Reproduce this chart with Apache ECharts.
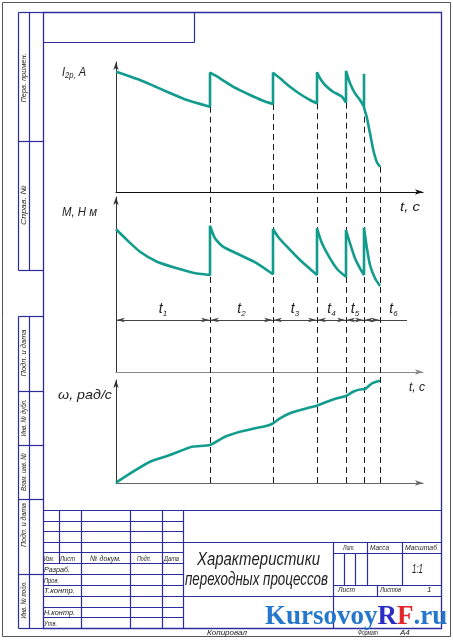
<!DOCTYPE html>
<html><head><meta charset="utf-8">
<script src="https://cdn.jsdelivr.net/npm/echarts@6/dist/echarts.min.js"></script>
<style>html,body{margin:0;padding:0;background:#fff}#c{width:453px;height:640px}</style>
</head><body><div id="c"></div>
<script>
// ---- data ----
const tBounds = [9.4, 15.7, 20.1, 23.0, 24.8, 26.4];
const currentI = [
  [0,120.3],[1.2,116.3],[2.4,112],[3.8,106],[5.1,100.3],[7.1,92],[9.4,85.3],
  [9.4,119.3],[10.4,113.7],[11.7,105.3],[13.4,97],[14.7,91.3],[15.7,88],
  [15.7,119.3],[16.4,113.7],[17.4,105.3],[18.4,98],[19.4,92],[20.1,88.7],
  [20.1,119.7],[20.4,113.7],[20.9,107],[21.7,100.3],[22.6,95.3],[23.0,89.3],
  [23.0,121],[23.4,108.7],[23.9,98.7],[24.4,92],[24.8,85.3],
  [24.8,118.3],[24.8,85.3],[25.07,75.3],[25.4,58.7],[25.73,42],[26.07,30.3],[26.4,25.3]
];
const torqueM = [
  [0,142.7],[1.1,132],[2.4,120.3],[4.1,110.3],[6.1,103.7],[7.7,99.3],[9.4,97],
  [9.4,146.3],[9.9,133.7],[10.7,125.3],[12.4,117],[14.1,108.7],[15.7,97.7],
  [15.7,143],[16.2,135.3],[17.1,125.3],[18.4,112],[20.1,97],
  [20.1,143.7],[20.6,128.7],[21.4,113.7],[22.2,102],[23.0,95.3],
  [23.0,142],[23.4,128.7],[23.9,113.7],[24.4,103.7],[24.8,97],
  [24.8,144.3],[25.07,125.3],[25.4,107],[25.9,93.7],[26.4,86]
];
const speedW = [
  [0,0.3],[1.7,11.3],[3.4,21.3],[5.4,28],[7.6,36.3],[9.4,38],[10.9,46.3],[12.4,51.3],
  [13.9,54.7],[15.1,57.3],[15.7,59.7],[16.4,64.7],[17.4,69.7],[19.1,74.7],[20.1,77.3],
  [21.1,81.3],[22.1,84.7],[23.0,87],[23.7,91.3],[24.6,93.7],[24.8,93.7],[25.6,99.7],[26.4,102.3]
];
const dimLevel = 52;
const dimEnd = 29.1;
const dimNames = ['1','2','3','4','5','','6'];

// ---- helpers ----
const teal = '#129c8d';
const blue = '#2c2c9c';
const FF = '"Liberation Sans", "DejaVu Sans", sans-serif';
const mctx = document.createElement('canvas').getContext('2d');
function tw(text, font){ mctx.font = font; return mctx.measureText(text).width; }
function T(text, x, y, size, w, o){
  o = o || {};
  const font = 'italic ' + size + 'px ' + FF;
  const s = w ? w / tw(text, font) : 1;
  return {type:'text', x:x, y:y, scaleX:s, rotation:o.rot||0, z:20,
    style:{text:text, font:font, fill:o.color||'#222', align:o.align||'left', verticalAlign:'middle'}};
}
function L(x1,y1,x2,y2,c,w){
  w = w || 1.2; c = c || blue;
  return {type:'line', z:15, shape:{x1:x1+0.5,y1:y1+0.5,x2:x2+0.5,y2:y2+0.5}, style:{stroke:c, lineWidth:w}};
}

const g = [];
// outer border and frame
g.push({type:'rect', z:14, shape:{x:2.5,y:2.5,width:448,height:634}, style:{fill:null, stroke:'#555', lineWidth:1}});
g.push({type:'rect', z:15, shape:{x:43.5,y:12.5,width:398,height:616}, style:{fill:null, stroke:blue, lineWidth:1.3}});
g.push(L(43,42,194,42)); g.push(L(194,12,194,42));
// left strip
[[12,270],[316,628]].forEach(r=>{ g.push(L(18,r[0],18,r[1])); g.push(L(29,r[0],29,r[1])); });
[12,141,270,316,391,445,499,574,628].forEach(y=>g.push(L(18,y,43,y)));
// title block
[510,542,596].forEach(y=>g.push(L(43,y,441,y)));
[521,531,552,563,574,585,607,617].forEach(y=>g.push(L(43,y,183,y)));
g.push(L(59,510,59,563));
[81,130,162,183].forEach(x=>g.push(L(x,510,x,628)));
g.push(L(333,542,333,628));
g.push(L(333,553,441,553)); g.push(L(333,585,441,585));
[367,402].forEach(x=>g.push(L(x,542,x,585)));
[344,355].forEach(x=>g.push(L(x,553,x,585)));
g.push(L(377,585,377,596));

// rotated strip labels
const R = Math.PI/2;
[['Перв. примен.',78,49],['Справ. №',205,40],['Подп. и дата',353,47],['Инв. № дубл.',418,37],
 ['Взам. инв. №',472,38],['Подп. и дата',525,44],['Инв. № подл.',600,37]].forEach(a=>{
  g.push(T(a[0], 23.5, a[1], 8, a[2], {rot:R, align:'center'}));
});
// title block labels
[['Изм.',44,559,10],['Лист',60,559,15],['№ докум.',90,559,31],['Подп.',137,559,14],['Дата',164,559,15],
 ['Разраб.',44,570,26],['Пров.',44,581,15],['Т.контр.',44,591,31],['Н.контр.',44,613,31],['Утв.',44,624,13],
 ['Лит.',343,548,12],['Масса',370,548,19],['Масштаб',405,548,32],
 ['Лист',338,590,17],['Листов',380,590,21],['1',427,590,0],
 ['Копировал',207,633,40],['Формат',358,633,20],['А4',400,633,0]].forEach(a=>{
  g.push(T(a[0], a[1], a[2], 8, a[3]));
});
g.push(T('1:1', 412, 569, 13, 11));
g.push(T('Характеристики', 258.5, 560, 18, 123, {align:'center'}));
g.push(T('переходных процессов', 256.5, 580, 18, 143, {align:'center'}));
// watermark
g.push({type:'text', x:265, y:617, z:30, style:{
  text:'{b|Kursovoy}{r|R}{f|F}{b|.ru}', verticalAlign:'middle', align:'left',
  rich:{
    b:{font:'bold 27px "Liberation Serif", serif', fill:'#2477cc'},
    r:{font:'bold 27px "Liberation Serif", serif', fill:'#2c2cc8'},
    f:{font:'bold 27px "Liberation Serif", serif', fill:'#e3262a'}
  }}});
// axis names
const rich1 = {a:{font:'italic 13px '+FF, fill:'#222'}, s:{font:'italic 9px '+FF, fill:'#222', padding:[7,0,0,0]}};
g.push({type:'text', x:62, y:72, scaleX:0.85, z:20, style:{text:'{a|I}{s|2р,}{a| A}', rich:rich1, verticalAlign:'middle'}});
g.push(T('M, Н м', 62, 212, 13, 35));
g.push(T('ω, рад/с', 58, 395, 13, 54));
g.push(T('t, c', 400, 207, 13, 20));
g.push(T('t, c', 409, 387, 13, 16));

// ---- chart ----
function xA(i, show, color){
  return {type:'value', gridIndex:i, min:0, max:30.7, show:show,
    axisLine:{show:true, onZero:true, symbol:['none','arrow'], symbolSize:[4,8], lineStyle:{color:color, width:1}},
    axisTick:{show:false}, axisLabel:{show:false}, splitLine:{show:false}};
}
function yA(i, max, show){
  return {type:'value', gridIndex:i, min:0, max:max, show:show,
    axisLine:{show:true, symbol:['none','arrow'], symbolSize:[4,8], lineStyle:{color:'#333', width:1}},
    axisTick:{show:false}, axisLabel:{show:false}, splitLine:{show:false}};
}
const dropLines = tBounds.map(b=>{
  const v = Math.min.apply(null, currentI.filter(p=>Math.abs(p[0]-b)<1e-6).map(p=>p[1]));
  return [{coord:[b, v]}, {coord:[b, 0]}];
});
const edges = [0].concat(tBounds);
const AS = [3.5, 9];
const dimData = [];
for (let i=0;i<edges.length-1;i++){
  dimData.push([{coord:[edges[i],dimLevel], name:dimNames[i], symbol:'arrow', symbolSize:AS},
                {coord:[edges[i+1],dimLevel], symbol:'arrow', symbolSize:AS}]);
}
dimData.push([{coord:[edges[edges.length-1],dimLevel], name:dimNames[6], symbol:'none'},
              {coord:[dimEnd,dimLevel], symbol:'none'}]);

const dashStyle = {color:'#1a1a1a', width:1, type:[6,4]};
const option = {
  backgroundColor:'#fff',
  animation:false,
  grid:[
    {left:116, top:62, width:307, height:130, containLabel:false, outerBoundsMode:'none'},
    {left:116, top:197, width:307, height:175, containLabel:false, outerBoundsMode:'none'},
    {left:116, top:380, width:307, height:103, containLabel:false, outerBoundsMode:'none'},
    {left:116, top:192, width:307, height:291, containLabel:false, outerBoundsMode:'none'}
  ],
  xAxis:[xA(0,true,'#111'), xA(1,true,'#888'), xA(2,true,'#666'), xA(3,false,'#000')],
  yAxis:[yA(0,130,true), yA(1,175,true), yA(2,103,true), yA(3,1,false)],
  graphic:{elements:g},
  series:[
    {type:'line', xAxisIndex:0, yAxisIndex:0, data:currentI, symbol:'none', z:5, smooth:0.2,
     lineStyle:{color:teal, width:2.6}, 
     markLine:{silent:true, symbol:'none', label:{show:false}, lineStyle:dashStyle, data:dropLines}},
    {type:'line', xAxisIndex:1, yAxisIndex:1, data:torqueM, symbol:'none', z:5, smooth:0.2,
     lineStyle:{color:teal, width:2.6},
     markLine:{silent:true, symbolSize:8, lineStyle:{color:'#444', width:1, type:'solid'},
       label:{show:true, position:'middle', distance:2, color:'#222',
         formatter:p=> p.name ? '{t|t}{s|'+p.name+'}' : '',
         rich:{t:{fontSize:14, fontStyle:'italic', fontFamily:FF, color:'#222', lineHeight:18},
               s:{fontSize:8, fontStyle:'italic', fontFamily:FF, color:'#222', lineHeight:12, verticalAlign:'bottom'}}},
       data:dimData}},
    {type:'line', xAxisIndex:2, yAxisIndex:2, data:speedW, symbol:'none', z:5, smooth:0.2,
     lineStyle:{color:teal, width:2.6}},
    {type:'line', xAxisIndex:3, yAxisIndex:3, data:[], symbol:'none',
     markLine:{silent:true, symbol:'none', label:{show:false}, lineStyle:dashStyle,
       data:tBounds.map(b=>({xAxis:b}))}}
  ]
};
const chart = echarts.init(document.getElementById('c'));
chart.setOption(option);
</script></body></html>
